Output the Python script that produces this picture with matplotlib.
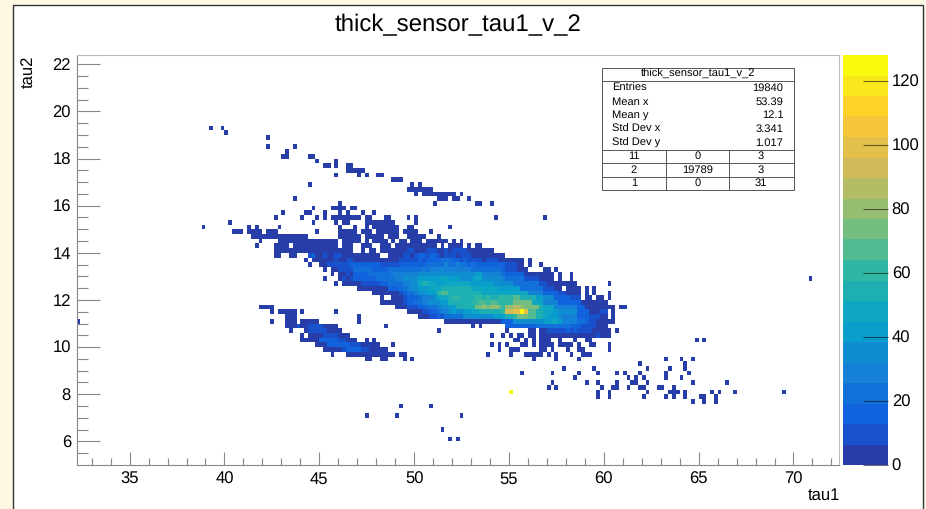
# %% Imports
import matplotlib

matplotlib.use("Agg")
import matplotlib.patches as patches
import matplotlib.pyplot as plt
import numpy as np
from matplotlib.colors import BoundaryNorm, LinearSegmentedColormap, ListedColormap

plt.rcParams["font.family"] = ["Liberation Sans", "DejaVu Sans"]
plt.rcParams["text.hinting"] = "no_hinting"

W, H = 926, 509

# histogram binning
n_tau1_bins = 201
tau1_low, tau1_bin_width = 32.2, 0.2
n_tau2_bins = 87
tau2_low, tau2_bin_width = 5.0, 0.2

# occupied bins: bin "c", run "a-b" (both colour band 0),
# or "c:levels" with one base-36 colour band per bin starting at c
tau2_rows = [71, 70, 69, 67, 66, 65, 64, 63, 62, 61, 60, 59, 58, 57, 56, 55, 54, 53, 52, 51, 50, 49, 48]
tau1_runs = [
    "35 38",
    "39",
    "50",
    "50 57",
    "55",
    "54-55 61-62",
    "63 68",
    "65-66 68 71-72",
    "71-75",
    "68 74 76 79-80",
    "83-85",
    "61 88 90",
    "87-93",
    "89 91-99 101",
    "57 95-97 99-100 103",
    "69 94 105-106 109",
    "62 67-70 72-73",
    "54 60-61 65 69 71 75 78",
    "52 59 63 65 67-74 76-77 81-82 87 89 110 123",
    "40 62 68 70-71 76-83 89",
    "33 45 47 53 69 73 76 78-84 87-88 98",
    "41-43 45-48 50-52 63 69-73 75-77 79-84 86-89 93",
    "46-60 69-74 76-80 82-84 87-91 95",
]

core_rows = [47, 46, 45, 44, 43, 42, 41, 40, 39, 38, 37, 36, 35, 34, 33, 32, 31, 30, 29, 28, 27, 26, 25, 24, 23, 22]
core_runs = [
    "48 53-68 70-74 76 78-81 83 85-86 88-90 92-95 96-97 99 101",
    "47 52-55 57-68 70-72 75-77 80-82 84-94 96 98-101 103 105-106",
    "52-72 75 77-78 80-85 86:01100 91:01110 96:01011 101:11000 106-109",
    "52-53 56-57 61:12 63:00100 68:11000 73-79 82:00 84:00110 89:12212 94:21 96:01110 101:11100 106-112",
    "60 62:000 65:00010 70:01100 75-82 83:00111 88:11212 93:22233 98:32212 103:11110 108:11100 113-117 119",
    "61 64 65:01111 70:11222 75:22222 80:11111 85:22222 90:22333 95:33433 100:43323 105:22222 110:22211 115:100 119 122",
    "65 67:001 70:11133 75:33322 80:22333 85:33333 90:34344 95:45444 100:44443 105:33333 110:33211 115:1000 123-124 126",
    "67 69:0010 73:22223 78:33333 83:44444 88:44555 93:55555 98:55 100:55555 105:66444 110:44322 115:22200 120-125 127 130",
    "65 69:0101 73:22222 78:23333 83:34455 88:55666 93:66677 98:66 100:65556 105:77555 110:55433 115:33311 120:11000 125 127 130",
    "68 70-73 74:01111 79:12233 84:33445 89:57887 94:76677 99:7 100:77776 105:66666 110:55555 115:33333 120:33110 125-131 140",
    "74-81 82:22 84:23345 89:56667 94:77888 99:8 100:88887 105:77777 110:76666 115:66333 120:33311 125:100 129-132 134 136",
    "78-84 85:123 88:345 91:5666 95:9aa8 99:8 100:88888 105:88777 110:77777 115:77774 120:44422 125:22110 130-132 134 136 140",
    "80 83-85 86:1222 90:34445 95:7 96:778 99:9 100:98888 105:99898 110:89999 115:aa888 120:86655 125:52222 130:111 134-135 137-138 140",
    "80-85 86:1223 90:34455 95:5 96:668 99:8 100:88889 105:9aa9a 110:a9999 115:bbbbb 120:77744 125:44222 130:22200 135-139",
    "48-51 84-86 87:1112 91:2333 95:4 96:556 99:6 100:88888 105:bbcbc 110:cb9cc 115:ddcbb 120:bb877 125:74444 130:44220 135-141 143-144",
    "51 53-57 59 68 87-89 90:0112 94:23 96:4456 100:55667 105:78888 110:889ee 115:ffjfa 120:a8877 125:66555 130:55222 135:00011 141",
    "55-57 74 90-92 93:11 95:2 96:133 99:3 100:33555 105:55555 110:66688 115:9bbba 120:a8876 125:66544 130:44222 135:11100 141",
    "51 55-57 59-63 74 97-109 110:00222 115:55555 120:55566 125:77644 130:44332 135:11000 140-141",
    "55-57 58:1 59:00111 64:10000 81 104 106 113:22 115:22222 120:23333 125:33333 130:22211 135:11000",
    "56 60:01111 65:10000 95 113 119-120 122:00 124:11111 129:21211 134:11000 139-140 142",
    "59 61-64 65:1111 69-71 109 112 114 116-117 119-120 122-136 137:1 138-140",
    "59-63 64:2222 68:21100 73 76 78 115-116 118 120 122-124 127 131 134-135 163 165",
    "63-65 66:22222 71:21110 76-79 83 109 111 113 117-118 120 122-125 127-130 132 135-136 140",
    "65-69 70:1222 74:21100 79-81 111 114-116 122-123 125 129 132-133 140",
    "67 71-83 85-86 108 114 118-122 124 126 130 133-135",
    "76-77 80-81 86 88 120 126 132 155 159 162",
]

lower_rows = [21, 20, 19, 18, 17, 16, 15, 14, 13, 12, 10, 7, 5, 39, 30]
lower_runs = [
    "148 160",
    "128 136 150 156 160",
    "117 125 132 137 142 144 148 155 161",
    "131 145 147 149 155 159",
    "125 134 137 142 146-147 150 162 171",
    "124 126 138 141-142 145 148-149 153-154 157",
    "114:j 137 140 150 156-158 160 167 169 173 186",
    "137 140 149 155 157 160 164-165 168",
    "162 165 168",
    "85 93",
    "76 84 101",
    "96",
    "98 100",
    "193",
    "0",
]

# stats box text
stats_title = "thick_sensor_tau1_v_2"
stats_names = ["Entries", "Mean x", "Mean y", "Std Dev x", "Std Dev y"]
stats_values = ["19840", "53.39", "12.1", "3.341", "1.017"]
stats_under = [["11", "0", "3"], ["2", "19789", "3"], ["1", "0", "31"]]

# kBird palette stops
bird_r = [0.2082, 0.0592, 0.0780, 0.0232, 0.1802, 0.5301, 0.8186, 0.9956, 0.9764]
bird_g = [0.1664, 0.3599, 0.5041, 0.6419, 0.7178, 0.7492, 0.7328, 0.7862, 0.9832]
bird_b = [0.5293, 0.8684, 0.8385, 0.7914, 0.6425, 0.4662, 0.3499, 0.1968, 0.0539]
n_bands = 20
z_max = 128
z_ticks = [0, 20, 40, 60, 80, 100, 120]


def fill_row(grid, row, runs):
    for tok in runs.split():
        if ":" in tok:
            start, levels = tok.split(":")
            for k, ch in enumerate(levels):
                grid[row, int(start) + k] = int(ch, 36)
        elif "-" in tok:
            a, b = tok.split("-")
            grid[row, int(a) : int(b) + 1] = 0
        else:
            grid[row, int(tok)] = 0


z = np.full((n_tau2_bins, n_tau1_bins), np.nan)
for rows, runs in [(tau2_rows, tau1_runs), (core_rows, core_runs), (lower_rows, lower_runs)]:
    for row, run in zip(rows, runs):
        fill_row(z, row, run)

tau1_edges = tau1_low + tau1_bin_width * np.arange(n_tau1_bins + 1)
tau2_edges = tau2_low + tau2_bin_width * np.arange(n_tau2_bins + 1)

bird = LinearSegmentedColormap.from_list(
    "bird", list(zip(np.linspace(0, 1, 9), zip(bird_r, bird_g, bird_b))), N=255
)
band_colors = [bird((i + 0.99) / n_bands) for i in range(n_bands)]
band_cmap = ListedColormap(band_colors)
band_norm = BoundaryNorm(np.arange(n_bands + 1) - 0.5, n_bands)


def axes_px(left, top, right, bottom):
    return [left / W, 1 - bottom / H, (right - left) / W, (bottom - top) / H]


fig = plt.figure(figsize=(W / 100, H / 100), dpi=100, facecolor="#fff8e3")
pad_rect = patches.Rectangle(
    (13 / W, -0.02), (923 - 13) / W, 1.02 - 5 / H,
    transform=fig.transFigure, facecolor="white", edgecolor="#333333", linewidth=1.0, zorder=-5,
)
fig.add_artist(pad_rect)

# main histogram
ax = fig.add_axes(axes_px(76.5, 55.3, 839, 465), zorder=1)
ax.pcolormesh(tau1_edges, tau2_edges, z, cmap=band_cmap, norm=band_norm, linewidth=0, antialiased=False)
ax.set_xlim(32.2, 72.4)
ax.set_ylim(5.0, 22.38)
ax.set_xticks(np.arange(35, 71, 5))
ax.set_xticks(np.arange(33, 73, 1), minor=True)
ax.set_yticks(np.arange(6, 23, 2))
ax.set_yticks(np.arange(5.5, 22.4, 0.5), minor=True)
ax.tick_params(axis="x", which="major", direction="in", length=9.4, width=0.8, color="#888888", labelsize=12, pad=5)
ax.tick_params(axis="x", which="minor", direction="in", length=4.7, width=0.8, color="#888888")
ax.tick_params(axis="y", which="major", direction="in", length=16.5, width=0.8, color="#888888", labelsize=12, pad=4)
ax.tick_params(axis="y", which="minor", direction="in", length=8.2, width=0.8, color="#888888")
ax.spines["left"].set_color("#888888")
ax.spines["bottom"].set_color("#888888")
ax.spines["top"].set_color("#bbbbbb")
ax.spines["right"].set_color("#bbbbbb")
ax.set_axisbelow(False)

# colour scale
cax = fig.add_axes(axes_px(843, 55, 887.5, 465), zorder=1)
cax.pcolormesh(
    [0, 1], np.linspace(0, z_max, n_bands + 1), np.arange(n_bands)[:, None],
    cmap=band_cmap, norm=band_norm, linewidth=0, antialiased=False,
)
cax.set_xticks([])
cax.set_yticks(z_ticks)
cax.yaxis.tick_right()
cax.tick_params(axis="y", direction="in", length=18, width=0.8, color=(0, 0, 0, 0.55), labelsize=12, pad=3)
for s in cax.spines.values():
    s.set_visible(False)

# pixel overlay for text and the stats box
over = fig.add_axes([0, 0, 1, 1], zorder=5)
over.set_xlim(0, W)
over.set_ylim(H, 0)
over.axis("off")

over.text(458.5, 25.5, stats_title, ha="center", va="center", fontsize=17.3)
over.text(840.5, 495, "tau1", ha="right", va="center", fontsize=12)
over.text(29, 56, "tau2", ha="center", va="top", rotation=90, fontsize=12)

box = patches.Rectangle((602, 67.5), 191.5, 122.5, facecolor="white", edgecolor="#555555", linewidth=0.7)
over.add_patch(box)
for yy in [81, 149.5, 163, 176.5]:
    over.plot([602, 793.5], [yy, yy], color="#555555", lw=0.7)
for xx in [666, 729]:
    over.plot([xx, xx], [149.5, 190], color="#555555", lw=0.7)
over.text(698, 74, stats_title, ha="center", va="center", fontsize=8)
for yy, name, value in zip([88.5, 102, 115, 129.5, 143], stats_names, stats_values):
    over.text(612, yy, name, ha="left", va="center", fontsize=8)
    over.text(783.5, yy, value, ha="right", va="center", fontsize=8)
for yy, row in zip([156.5, 170, 183.5], stats_under):
    for xx, cell in zip([634, 698, 761], row):
        over.text(xx, yy, cell, ha="center", va="center", fontsize=8)

fig.savefig("out.png", dpi=100, facecolor=fig.get_facecolor())
